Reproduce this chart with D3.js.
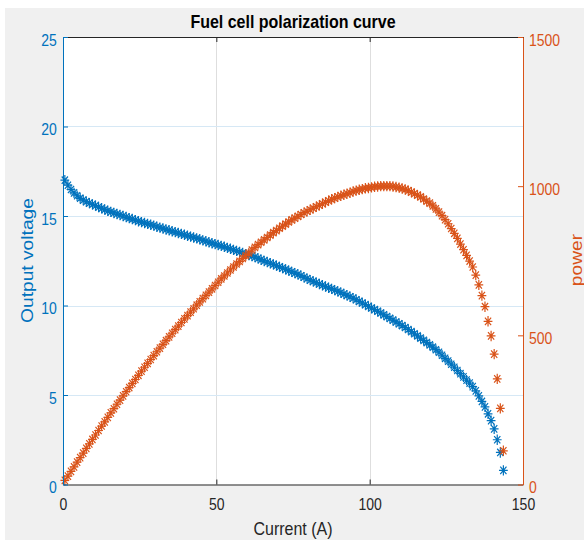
<!DOCTYPE html>
<html>
<head>
<meta charset="utf-8">
<script src="https://cdn.jsdelivr.net/npm/d3@7/dist/d3.min.js"></script>
<style>
    body { margin: 0; background: #ffffff; }
    text { font-family: "Liberation Sans", Arial, Helvetica, sans-serif; }
</style>
</head>
<body>
<div id="viz-container"></div>
<script>
// one sample per ampere, first one at 0.6 A
let current = d3.range(0.6, 144, 1);

// output voltage (V)
let voltage = [
    17.00, 16.72, 16.48, 16.29, 16.13, 15.99, 15.89, 15.80, 15.72, 15.65,
    15.58, 15.50, 15.43, 15.36, 15.29, 15.23, 15.17, 15.11, 15.06, 15.00,
    14.94, 14.88, 14.83, 14.77, 14.71, 14.66, 14.61, 14.56, 14.51, 14.46,
    14.40, 14.35, 14.30, 14.25, 14.20, 14.15, 14.10, 14.05, 14.00, 13.95,
    13.90, 13.85, 13.80, 13.75, 13.70, 13.64, 13.59, 13.53, 13.48, 13.43,
    13.38, 13.33, 13.28, 13.22, 13.17, 13.11, 13.05, 12.99, 12.93, 12.87,
    12.82, 12.76, 12.70, 12.63, 12.56, 12.49, 12.43, 12.36, 12.30, 12.23,
    12.16, 12.09, 12.02, 11.95, 11.88, 11.81, 11.74, 11.66, 11.58, 11.50,
    11.42, 11.35, 11.28, 11.20, 11.13, 11.06, 10.99, 10.93, 10.86, 10.79,
    10.72, 10.64, 10.57, 10.49, 10.41, 10.32, 10.23, 10.14, 10.05, 9.95,
    9.86, 9.77, 9.68, 9.58, 9.48, 9.38, 9.28, 9.18, 9.08, 8.98,
    8.88, 8.77, 8.66, 8.54, 8.42, 8.30, 8.18, 8.05, 7.93, 7.80,
    7.67, 7.53, 7.39, 7.22, 7.05, 6.89, 6.72, 6.55, 6.37, 6.19,
    6.01, 5.83, 5.66, 5.47, 5.23, 4.95, 4.64, 4.34, 3.95, 3.57,
    3.11, 2.50, 1.79, 0.79
];

// power (W)
let power = [
    14, 28, 44, 59, 75, 90, 105, 121, 136, 151,
    166, 181, 196, 210, 225, 240, 254, 269, 283, 297,
    311, 325, 339, 352, 366, 380, 393, 406, 419, 432,
    445, 457, 470, 482, 495, 507, 519, 531, 543, 555,
    566, 578, 589, 601, 612, 623, 634, 645, 656, 667,
    678, 689, 699, 709, 719, 729, 739, 748, 758, 767,
    776, 786, 795, 804, 812, 820, 828, 836, 844, 851,
    859, 866, 873, 880, 887, 893, 899, 905, 911, 916,
    921, 926, 931, 936, 941, 946, 951, 956, 960, 964,
    968, 971, 975, 978, 982, 985, 988, 990, 993, 994,
    996, 998, 999, 1000, 1000, 1000, 1000, 999, 997, 995,
    992, 989, 985, 980, 975, 970, 964, 957, 950, 943,
    934, 924, 913, 901, 888, 874, 858, 842, 825, 806,
    787, 768, 749, 729, 702, 669, 633, 596, 547, 498,
    437, 354, 255, 113
];

let xTicks = [0, 50, 100, 150];
let voltTicks = [0, 5, 10, 15, 20, 25];
let powerTicks = [0, 500, 1000, 1500];

let W = 584, H = 540;
let pLeft = 63, pRight = 523, pTop = 37, pBottom = 484.5;
let stretch = 1.2; // the original screenshot is a bit taller than wide

let blue = '#0072BD', orange = '#D95319', dark = '#262626';

let viz = d3.select('#viz-container')
    .append('svg')
    .attr('width', W)
    .attr('height', H);

// figure background
viz.append('rect')
    .attr('x', 5).attr('y', 8)
    .attr('width', W - 5).attr('height', H - 8)
    .attr('fill', '#f0f0f0');

// plot area
viz.append('rect')
    .attr('x', pLeft).attr('y', pTop)
    .attr('width', pRight - pLeft).attr('height', pBottom - pTop)
    .attr('fill', '#ffffff');

let x = d3.scaleLinear().domain([0, 150]).range([pLeft, pRight]);
let yV = d3.scaleLinear().domain([0, 25]).range([pBottom, pTop]);
let yP = d3.scaleLinear().domain([0, 1500]).range([pBottom, pTop]);

// grid
viz.append('g').selectAll('line').data(xTicks.slice(1, -1)).enter()
    .append('line')
    .attr('x1', d => Math.round(x(d)) + 0.5).attr('x2', d => Math.round(x(d)) + 0.5)
    .attr('y1', pTop).attr('y2', pBottom)
    .attr('stroke', '#dedede');
viz.append('g').selectAll('line').data(voltTicks.slice(1, -1)).enter()
    .append('line')
    .attr('x1', pLeft).attr('x2', pRight)
    .attr('y1', d => Math.round(yV(d)) + 0.5).attr('y2', d => Math.round(yV(d)) + 0.5)
    .attr('stroke', '#d6e8f5');

// star marker, slightly taller than wide like the original
let star = 'M-4.4,0H4.4M0,-5.2V5.2M-3.1,-3.7L3.1,3.7M-3.1,3.7L3.1,-3.7';

viz.append('g').selectAll('path').data(voltage).enter()
    .append('path')
    .attr('d', star)
    .attr('transform', (d, i) => `translate(${x(current[i])},${yV(d)})`)
    .attr('fill', 'none')
    .attr('stroke', blue)
    .attr('stroke-width', 1.2);

viz.append('g').selectAll('path').data(power).enter()
    .append('path')
    .attr('d', star)
    .attr('transform', (d, i) => `translate(${x(current[i])},${yP(d)})`)
    .attr('fill', 'none')
    .attr('stroke', orange)
    .attr('stroke-width', 1.2);

// axes
function styleAxis(g, color) {
    g.select('.domain').attr('stroke', color);
    g.selectAll('.tick line').attr('stroke', color);
    g.selectAll('.tick text')
        .attr('fill', color)
        .attr('font-size', '14px')
        .attr('font-family', '"Liberation Sans", Arial, sans-serif');
}

let gTop = viz.append('g')
    .attr('transform', `translate(0,${pTop})`)
    .call(d3.axisTop(x).tickValues(xTicks).tickSizeInner(-5).tickSizeOuter(0).tickFormat(''));
styleAxis(gTop, dark);

let gBottom = viz.append('g')
    .attr('transform', `translate(0,${pBottom})`)
    .call(d3.axisBottom(x).tickValues(xTicks).tickSizeInner(-5).tickSizeOuter(0).tickPadding(11.3));
styleAxis(gBottom, dark);
gBottom.selectAll('.tick text').attr('transform', `scale(1,${stretch})`);

let gLeft = viz.append('g')
    .attr('transform', `translate(${pLeft},0)`)
    .call(d3.axisLeft(yV).tickValues(voltTicks).tickSizeInner(-5).tickSizeOuter(0).tickPadding(6.3));
styleAxis(gLeft, blue);
gLeft.selectAll('.tick text').attr('dy', 6.9).attr('transform', `scale(1,${stretch})`);

let gRight = viz.append('g')
    .attr('transform', `translate(${pRight},0)`)
    .call(d3.axisRight(yP).tickValues(powerTicks).tickFormat(d3.format('d'))
        .tickSizeInner(-5).tickSizeOuter(0).tickPadding(6));
styleAxis(gRight, orange);
gRight.selectAll('.tick text').attr('dy', 6.9).attr('transform', `scale(1,${stretch})`);

// title and labels
viz.append('text')
    .attr('transform', `translate(${(pLeft + pRight) / 2},28.3) scale(1,${stretch})`)
    .attr('text-anchor', 'middle')
    .attr('font-size', '16px')
    .attr('font-weight', 'bold')
    .attr('fill', '#000000')
    .text('Fuel cell polarization curve');

viz.append('text')
    .attr('transform', `translate(${(pLeft + pRight) / 2},535) scale(1,${stretch})`)
    .attr('text-anchor', 'middle')
    .attr('font-size', '16px')
    .attr('fill', dark)
    .text('Current (A)');

viz.append('text')
    .attr('transform', `translate(32.5,260.5) scale(1,${stretch}) rotate(-90)`)
    .attr('text-anchor', 'middle')
    .attr('font-size', '16px')
    .attr('fill', blue)
    .text('Output voltage');

viz.append('text')
    .attr('transform', `translate(581.6,260) scale(1,${stretch}) rotate(-90)`)
    .attr('text-anchor', 'middle')
    .attr('font-size', '16px')
    .attr('fill', orange)
    .text('power');
</script>
</body>
</html>
